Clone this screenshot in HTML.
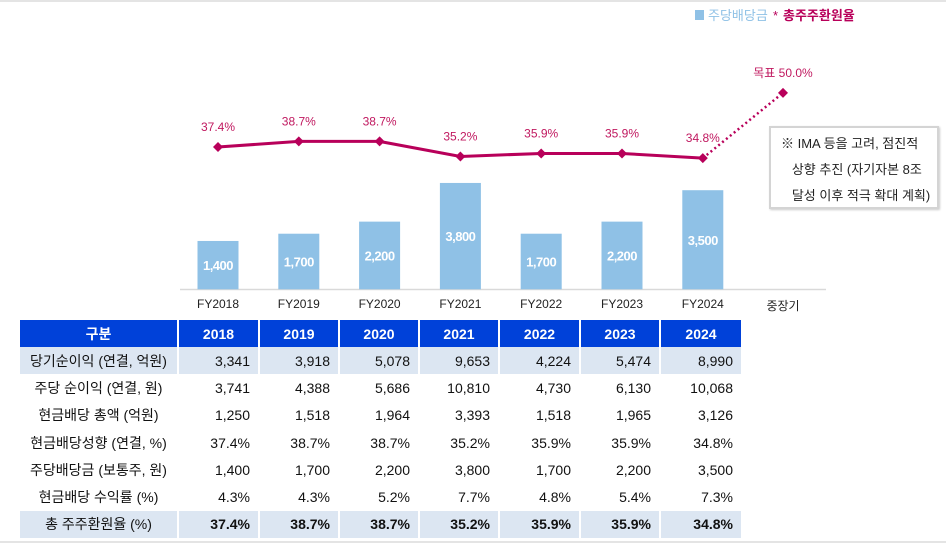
<!DOCTYPE html>
<html><head><meta charset="utf-8">
<style>
body{margin:0;width:946px;height:545px;background:#fff;position:relative;overflow:hidden;font-family:"Liberation Sans","Noto Sans CJK KR",sans-serif;}
#chart{position:absolute;left:0;top:0;}
table{position:absolute;left:20px;top:320px;border-collapse:collapse;table-layout:fixed;font-size:14px;color:#111;}
td,th{height:27.3px;padding:0 8px 0 0;border-left:2px solid #fff;text-align:right;box-sizing:border-box;}
th{background:#0041d9;color:#fff;font-weight:bold;text-align:center;padding:0;height:27px;}
td:first-child,th:first-child{text-align:center;padding:0;border-left:none;}
tr.hl td{background:#dce6f2;}
tr.bold td{font-weight:bold;}
#note{position:absolute;left:769px;top:126px;width:170px;height:83px;border:2px solid #d4d4d4;box-sizing:border-box;font-size:13px;line-height:26px;padding:3px 0 0 10px;color:#222;box-shadow:1px 1px 2px #ccc;}
</style></head><body>
<div style="position:absolute;left:0;top:0;width:946px;height:2px;background:#e4e4e4"></div>
<svg id="chart" width="946" height="320"></svg>
<div id="note">※ IMA 등을 고려, 점진적<br>&nbsp;&nbsp;&nbsp;상향 추진 (자기자본 8조<br>&nbsp;&nbsp;&nbsp;달성 이후 적극 확대 계획)</div>
<table>
<colgroup><col style="width:158px"><col style="width:81px"><col style="width:80px"><col style="width:80px"><col style="width:80px"><col style="width:81px"><col style="width:80px"><col style="width:81px"></colgroup>
<tr><th>구분</th><th>2018</th><th>2019</th><th>2020</th><th>2021</th><th>2022</th><th>2023</th><th>2024</th></tr>
<tr class="hl"><td>당기순이익 (연결, 억원)</td><td>3,341</td><td>3,918</td><td>5,078</td><td>9,653</td><td>4,224</td><td>5,474</td><td>8,990</td></tr>
<tr><td>주당 순이익 (연결, 원)</td><td>3,741</td><td>4,388</td><td>5,686</td><td>10,810</td><td>4,730</td><td>6,130</td><td>10,068</td></tr>
<tr><td>현금배당 총액 (억원)</td><td>1,250</td><td>1,518</td><td>1,964</td><td>3,393</td><td>1,518</td><td>1,965</td><td>3,126</td></tr>
<tr><td>현금배당성향 (연결, %)</td><td>37.4%</td><td>38.7%</td><td>38.7%</td><td>35.2%</td><td>35.9%</td><td>35.9%</td><td>34.8%</td></tr>
<tr><td>주당배당금 (보통주, 원)</td><td>1,400</td><td>1,700</td><td>2,200</td><td>3,800</td><td>1,700</td><td>2,200</td><td>3,500</td></tr>
<tr><td>현금배당 수익률 (%)</td><td>4.3%</td><td>4.3%</td><td>5.2%</td><td>7.7%</td><td>4.8%</td><td>5.4%</td><td>7.3%</td></tr>
<tr class="hl bold"><td style="font-weight:normal">총 주주환원율 (%)</td><td>37.4%</td><td>38.7%</td><td>38.7%</td><td>35.2%</td><td>35.9%</td><td>35.9%</td><td>34.8%</td></tr>
</table>
<div style="position:absolute;left:0;top:541px;width:946px;height:2px;background:#e4e4e4"></div>
<script>
const categories=["FY2018","FY2019","FY2020","FY2021","FY2022","FY2023","FY2024"];
const dps=[1400,1700,2200,3800,1700,2200,3500];
const returnRate=[37.4,38.7,38.7,35.2,35.9,35.9,34.8];
const targetLabel="중장기";
const targetRate=50.0;
const NS="http://www.w3.org/2000/svg";
const svg=document.getElementById('chart');
function x(i){return 218+i*80.8;}
function yb(v){return 274.8-0.02417*v;}
function yl(v){return 147-(v-37.4)*4.3;}
function el(t,a,txt){const e=document.createElementNS(NS,t);for(const k in a)e.setAttribute(k,a[k]);if(txt!==undefined)e.textContent=txt;svg.appendChild(e);return e;}
let ax=el('line',{x1:180,x2:826,y1:289.5,y2:289.5,stroke:'#d9d9d9','stroke-width':1.5});


let base=yb(-600);
dps.forEach((v,i)=>{
 let r=el('rect',{x:x(i)-20.5,y:yb(v),width:41,height:base-yb(v),fill:'#8fc1e6'});
 
 
 let t=el('text',{x:x(i),y:yb(v)+(base-yb(v))/2+5,'text-anchor':'middle','font-size':13,'font-weight':'bold',fill:'#fff','letter-spacing':'-0.5'},v.toLocaleString('en-US'));
 
 
 let c=el('text',{x:x(i),y:308,'text-anchor':'middle','font-size':12,fill:'#222'},categories[i]);
 
 
});
let tc=el('text',{x:783,y:310,'text-anchor':'middle','font-size':12,fill:'#222'},targetLabel);


let pts=returnRate.map((v,i)=>x(i)+','+yl(v)).join(' ');
let pl=el('polyline',{points:pts,fill:'none',stroke:'#b8005a','stroke-width':3});


let n=returnRate.length-1;
let dl=el('line',{x1:x(n),y1:yl(returnRate[n]),x2:783,y2:yl(targetRate),stroke:'#b8005a','stroke-width':2.5,'stroke-dasharray':'2 3'});


function diamond(cx,cy){return el('polygon',{points:`${cx},${cy-5} ${cx+5},${cy} ${cx},${cy+5} ${cx-5},${cy}`,fill:'#b8005a'});}
returnRate.forEach((v,i)=>{
 let d=diamond(x(i),yl(v));
 
 
 let t=el('text',{x:x(i),y:yl(v)-16,'text-anchor':'middle','font-size':12,fill:'#c0185f'},v.toFixed(1)+'%');
 
 
});
let td=diamond(783,yl(targetRate));


let tt=el('text',{x:783,y:yl(targetRate)-16,'text-anchor':'middle','font-size':12,fill:'#c0185f'},'목표 '+targetRate.toFixed(1)+'%');


let lg=el('rect',{x:695,y:10,width:9,height:10,fill:'#8fc1e6'});


let l1=el('text',{x:708,y:20,'font-size':13,fill:'#8fc1e6'},'주당배당금');


let l2=el('text',{x:773,y:20,'font-size':13,fill:'#b8005a'},'* ');


let l3=el('text',{x:783,y:20,'font-size':13,fill:'#b8005a','font-weight':'bold'},'총주주환원율');


</script>
</body></html>
